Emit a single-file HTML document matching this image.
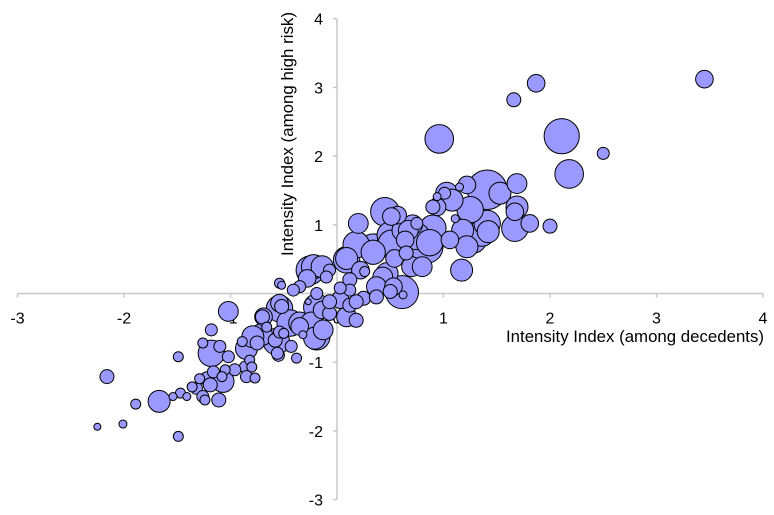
<!DOCTYPE html>
<html><head><meta charset="utf-8"><style>
html,body{margin:0;padding:0;background:#fff;}
svg{display:block;font-family:"Liberation Sans",Arial,sans-serif;}
</style></head><body>
<svg id="chart" width="774" height="515" viewBox="0 0 774 515" xmlns="http://www.w3.org/2000/svg">
<g id="axes"></g>
<g id="bubbles"></g>
<text x="764" y="342" text-anchor="end" font-size="16.5" textLength="258" lengthAdjust="spacingAndGlyphs" fill="#000">Intensity Index (among decedents)</text>
<text transform="translate(293,134) rotate(-90)" text-anchor="middle" font-size="16.5" textLength="244" lengthAdjust="spacingAndGlyphs" fill="#000">Intensity Index (among high risk)</text>
</svg>
<script>
const xTicks = [-3,-2,-1,0,1,2,3,4];
const yTicks = [-3,-2,-1,0,1,2,3,4];
const xVals = [1.87,1.66,0.96,2.11,2.50,2.18,3.45,-2.16,-1.89,-2.25,-2.01,-1.49,-1.67,-1.49,
-1.02,-0.69,-0.54,-0.71,-0.66,-0.57,-0.50,-0.55,-0.43,-0.38,-1.18,-1.26,-1.18,-1.10,-1.02,-0.89,-0.85,-0.82,-0.80,-0.86,-0.77,-0.85,-0.96,-1.05,-1.08,-1.16,-1.22,-1.29,-1.07,-1.19,-1.32,-1.36,-1.26,-1.24,-1.11,-1.47,-1.54,-1.41,-0.44,
1.17,0.45,0.57,0.20,0.71,0.90,1.06,1.18,1.28,0.94,1.03,0.34,0.09,-0.25,-0.14,-0.19,-0.19,-0.35,-0.54,-0.54,-0.70,-0.79,-0.56,-0.54,
0.18,0.34,0.50,0.62,0.75,0.87,0.09,0.22,0.26,0.12,0.43,0.53,0.61,0.62,0.50,0.25,0.12,0.03,-0.07,-0.22,-0.28,-0.10,-0.35,-0.41,-0.52,-0.19,-0.27,-0.52,-0.75,-0.58,-0.35,-0.14,-0.07,0.18,0.09,-0.24,-0.13,-0.21,-0.32,0.03,-0.07,0.12,0.37,
0.51,0.75,0.67,0.84,0.70,0.80,0.65,0.54,0.51,0.64,0.47,0.37,0.18,1.36,1.41,1.25,1.22,1.42,1.11,0.90,0.94,1.01,1.08,1.15,1.22,1.41,1.53,1.69,1.69,1.67,1.67,1.81,2.00];
const yVals = [3.06,2.82,2.25,2.29,2.04,1.74,3.12,-1.21,-1.61,-1.94,-1.90,-2.08,-1.57,-0.92,
-0.26,-0.34,-0.22,-0.60,-0.49,-0.70,-0.58,-0.90,-0.77,-0.94,-0.53,-0.72,-0.87,-0.77,-0.92,-0.70,-0.80,-0.97,-1.07,-1.07,-1.23,-1.21,-1.11,-1.11,-1.21,-1.14,-1.24,-1.24,-1.28,-1.33,-1.38,-1.36,-1.50,-1.55,-1.55,-1.45,-1.50,-1.50,-0.43,
0.34,1.19,1.14,1.02,1.00,0.95,0.78,0.92,0.78,1.26,1.46,0.60,0.49,0.34,0.39,-0.20,-0.63,-0.43,-0.14,0.15,-0.34,-0.63,-0.87,-0.56,
0.71,0.66,0.85,0.92,0.83,0.74,0.51,0.34,0.32,0.20,0.24,0.10,0.02,-0.02,0.03,-0.07,0.05,0.08,0.34,0.39,0.22,0.24,0.10,0.05,0.12,0.00,-0.12,-0.19,-0.72,-0.68,-0.48,-0.24,-0.29,-0.39,-0.34,-0.43,-0.53,-0.65,-0.60,-0.09,-0.12,-0.17,-0.05,
1.12,1.02,0.92,0.68,0.39,0.39,0.59,0.51,0.73,0.78,0.29,0.10,-0.12,0.88,1.02,1.22,0.68,0.90,1.09,1.26,1.41,1.46,1.36,1.55,1.58,1.51,1.46,1.60,1.26,1.19,0.95,1.02,0.98];
const sizes = [8,7,13,16,6,13,8,7,5,3.5,4,5,10,5,
9,8,12,10,5,12,5,6,6,5,6,5,12,6,6,5,10,5,5,6,5,6,6,5,5,6,7,5,10,7,6,5,6,5,7,5,4,4,12,
10,13,8,9,9,12,8,10,12,8,10,11,12,13,10,12,12,10,8,5,7,10,6,6,
12,13,12,10,12,12,10,8,5,7,9,8,15,4,7,7,6,6,6,11,8,6,6,6,4,6,3,7,7,7,8,8,7,7,9,10,9,10,4,8,7,7,7,
8,6,9,15,9,9,7,8,12,8,10,9,7,12,12,12,10,10,4,7,4,6,10,4,8,18,10,9,10,8,12,8,7];

const X0 = 337, XU = 106.5, Y0 = 293.5, YU = 68.7;
function sx(v){ return X0 + v*XU; }
function sy(v){ return Y0 - v*YU; }
function sr(s){ return s > 7 ? s*1.1 : s; }
const NS = "http://www.w3.org/2000/svg";
const axes = document.getElementById('axes');
function mk(tag, attrs, parent){
  const e = document.createElementNS(NS, tag);
  for (const k in attrs) e.setAttribute(k, attrs[k]);
  parent.appendChild(e); return e;
}
const axisColor = "#c8c8c8";
const xl = mk('line',{x1:sx(-3),x2:sx(4),y1:Y0,y2:Y0,stroke:axisColor,'stroke-width':1.5},axes);


const yl = mk('line',{x1:X0,x2:X0,y1:sy(-3),y2:sy(4),stroke:axisColor,'stroke-width':1.5},axes);


xTicks.forEach(function(t){
  const tk = mk('line',{x1:sx(t),x2:sx(t),y1:Y0,y2:Y0+4,stroke:axisColor,'stroke-width':1.5},axes);
  
  
  const tx = mk('text',{x:sx(t),y:Y0+30,'text-anchor':'middle','font-size':16,fill:'#000'},axes);
  tx.textContent = String(t);
  
  
});
yTicks.forEach(function(t){
  const tk = mk('line',{x1:X0-4,x2:X0,y1:sy(t),y2:sy(t),stroke:axisColor,'stroke-width':1.5},axes);
  
  
  const tx = mk('text',{x:X0-14,y:sy(t)+6,'text-anchor':'end','font-size':16,fill:'#000'},axes);
  tx.textContent = String(t);
  
  
});
const bg = document.getElementById('bubbles');
const idx = xVals.map(function(_,i){return i;}).sort(function(a,b){return sizes[b]-sizes[a];});
idx.forEach(function(i){
  const c = mk('circle',{cx:sx(xVals[i]),cy:sy(yVals[i]),r:sr(sizes[i]),fill:'#9999ff',stroke:'#000','stroke-width':1},bg);
  
  
});
</script>
</body></html>
